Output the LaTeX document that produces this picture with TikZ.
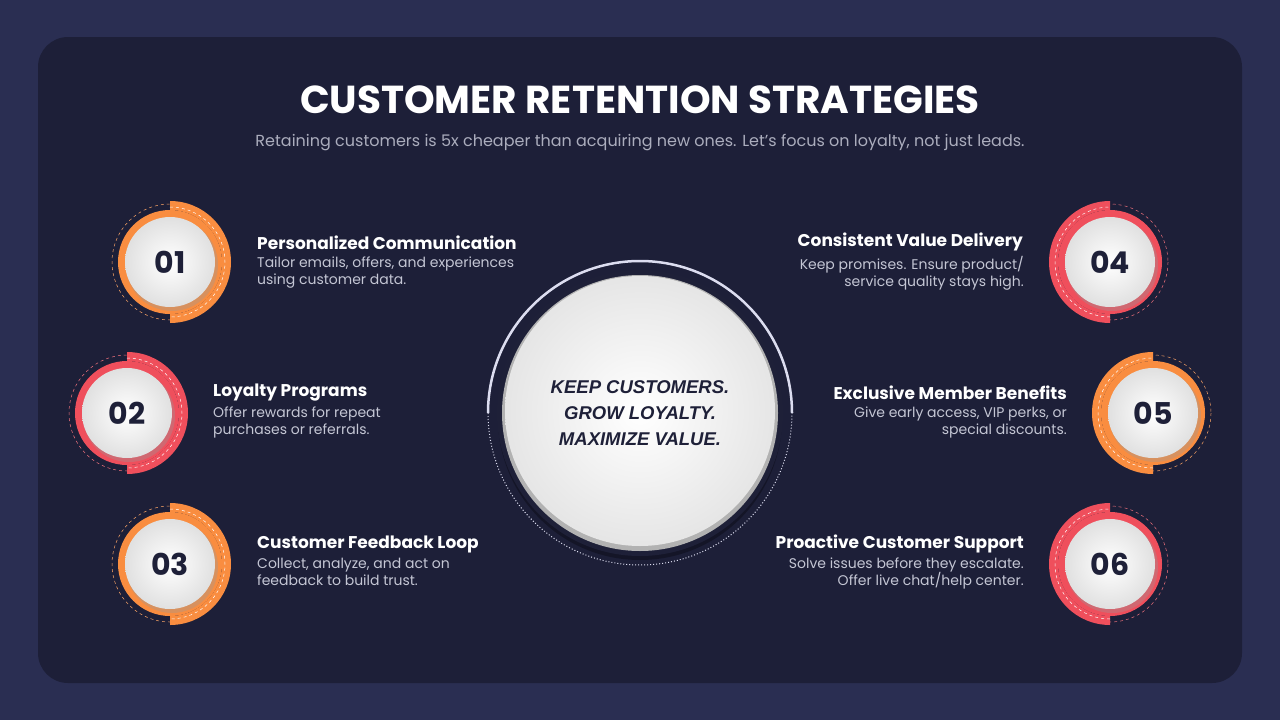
\documentclass[tikz,border=0pt]{standalone}
\usepackage{fontspec}
\setmainfont{Poppins}
\newfontfamily\arialf{Liberation Sans}
\definecolor{outerbg}{HTML}{2A2E52}
\definecolor{panel}{HTML}{1D1F38}
\definecolor{org}{HTML}{F98D40}
\definecolor{rd}{HTML}{EF4F5C}
\definecolor{txt}{HTML}{C4C6D4}
\definecolor{num}{HTML}{1E2038}
\definecolor{lav}{HTML}{DCDDF0}
\tikzset{
 head/.style={font=\fontsize{17}{20}\selectfont\bfseries, text=white, inner sep=0},
 body/.style={font=\fontsize{14}{17}\selectfont, text=txt, inner sep=0, align=left},
 bodyr/.style={font=\fontsize{14}{17}\selectfont, text=txt, inner sep=0, align=right},
}
\newcommand{\badge}[5]{% center, color, number, start angle, end angle
 \begin{scope}[shift={#1}]
  \draw[#2!80!white, dashed, line width=0.5pt] (0,0) circle (58);
  \fill[#2] (0,0) circle (52);
  \fill[#2] (#4:61) arc (#4:#5:61) -- (#5:52) arc (#5:#4:52) -- cycle;
  \draw[white, dashed, line width=0.5pt] (#4:55) arc (#4:#5:55);
  \fill[black!40, opacity=0.35] (2,3) circle (46);
  \shade[inner color=white, outer color=black!12] (0,0) circle (45);
  \node[font=\fontsize{30}{30}\selectfont\bfseries, text=num] at (0,0) {#3};
 \end{scope}}
\begin{document}
\begin{tikzpicture}[x=1pt,y=-1pt]
\fill[outerbg] (0,0) rectangle (1280,720);
\fill[panel, rounded corners=30] (38,37) rectangle (1242,683);
\node[font=\fontsize{39}{44}\selectfont\bfseries, text=white] (title) at (640,100) {CUSTOMER RETENTION STRATEGIES};
\node[font=\fontsize{16}{18}\selectfont, text=txt!85!panel] (sub) at (640,143) {Retaining customers is 5x cheaper than acquiring new ones. Let’s focus on loyalty, not just leads.};
% center
\draw[lav, line width=2.5pt] (488,413) arc (180:360:152);
\draw[lav, dotted, line width=1pt] (488,413) arc (180:0:152);
\fill[black, opacity=0.3] (640,418) circle (142);
\fill[num] (640,413) circle (143);
\fill[black!30] (640,413) circle (138);
\shade[inner color=white, outer color=black!10, shading=radial] (640,411) circle (135);
\node[font=\arialf\fontsize{18.5}{26}\selectfont\bfseries\itshape, text=num, align=center] (core) at (640,413) {KEEP CUSTOMERS.\\GROW LOYALTY.\\MAXIMIZE VALUE.};
\badge{(170,262)}{org}{01}{-90}{90}
\badge{(127,413)}{rd}{02}{-90}{90}
\badge{(170,564)}{org}{03}{-90}{90}
\badge{(1110,262)}{rd}{04}{90}{270}
\badge{(1153,413)}{org}{05}{90}{270}
\badge{(1110,564)}{rd}{06}{90}{270}
\node[head, anchor=west] (h1) at (257,243) {Personalized Communication};
\node[body, anchor=north west] (b1) at (257,257) {Tailor emails, offers, and experiences\\using customer data.};
\node[head, anchor=west] (h2) at (213,393) {Loyalty Programs};
\node[body, anchor=north west] (b2) at (213,407) {Offer rewards for repeat\\purchases or referrals.};
\node[head, anchor=west] (h3) at (257,544) {Customer Feedback Loop};
\node[body, anchor=north west] (b3) at (257,558) {Collect, analyze, and act on\\feedback to build trust.};
\node[head, anchor=east] (h4) at (1023,242) {Consistent Value Delivery};
\node[bodyr, anchor=north east] (b4) at (1024,256) {Keep promises. Ensure product/\\service quality stays high.};
\node[head, anchor=east] (h5) at (1067,393) {Exclusive Member Benefits};
\node[bodyr, anchor=north east] (b5) at (1067,407) {Give early access, VIP perks, or\\special discounts.};
\node[head, anchor=east] (h6) at (1024,544) {Proactive Customer Support};
\node[bodyr, anchor=north east] (b6) at (1024,558) {Solve issues before they escalate.\\Offer live chat/help center.};
\end{tikzpicture}
\end{document}
